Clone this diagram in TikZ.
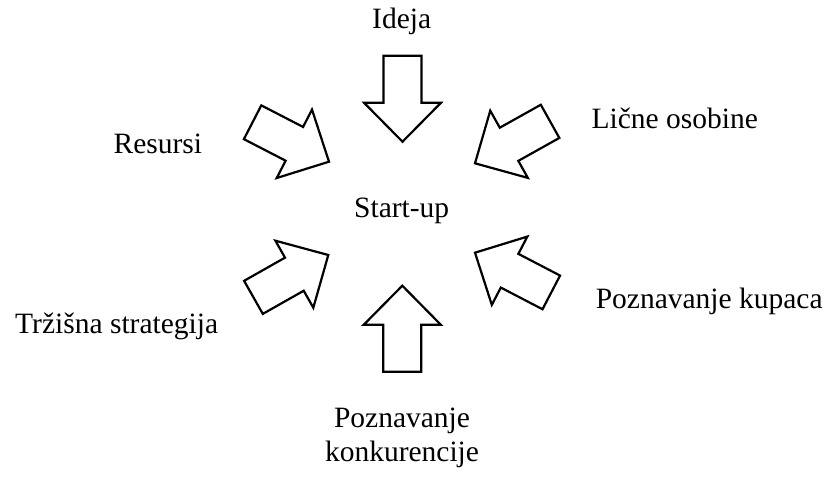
\documentclass[tikz,border=0pt]{standalone}
\usepackage{fontspec}
\setmainfont{Liberation Serif}
\begin{document}
\begin{tikzpicture}[x=1pt,y=-1pt,
  lbl/.style={inner sep=0pt,font=\fontsize{29.5}{34}\selectfont},
  blockarrow/.pic={
    \draw[line width=2.2pt,fill=white]
      (0,0) -- (-39,38.5) -- (-39,19) -- (-86,19) -- (-86,-19)
      -- (-39,-19) -- (-39,-38.5) -- cycle;
  }]
  \useasboundingbox (0,0) rectangle (824,477);

  % centre label
  \node[lbl,anchor=base] (startup) at (401.7,217.3) {Start-up};

  % surrounding factors
  \node[lbl,anchor=base] (ideja)    at (401.7,28.5)  {Ideja};
  \node[lbl,anchor=base] (licne)    at (674.7,128.3) {Lične osobine};
  \node[lbl,anchor=base] (resursi)  at (157.9,153.3) {Resursi};
  \node[lbl,anchor=base] (kupci)    at (709.2,308.3) {Poznavanje kupaca};
  \node[lbl,anchor=base] (trziste)  at (116.7,333.3) {Tržišna strategija};
  \node[lbl,anchor=north,align=center] (konkur) at (402,408)
    {Poznavanje\\konkurencije};

  % block arrows pointing towards the centre
  \pic (aTop)  [rotate=-90]   at (402.5,141.7) {blockarrow};
  \pic (aBot)  [rotate=90]    at (402.3,285.7) {blockarrow};
  \pic (aTR)   [rotate=209.2] at (475,163.3)   {blockarrow};
  \pic (aTL)   [rotate=-27.3] at (329,161.7)   {blockarrow};
  \pic (aBL)   [rotate=29.5]  at (328.3,255)   {blockarrow};
  \pic (aBR)   [rotate=152.5] at (475,252.7)   {blockarrow};
\end{tikzpicture}
\end{document}
